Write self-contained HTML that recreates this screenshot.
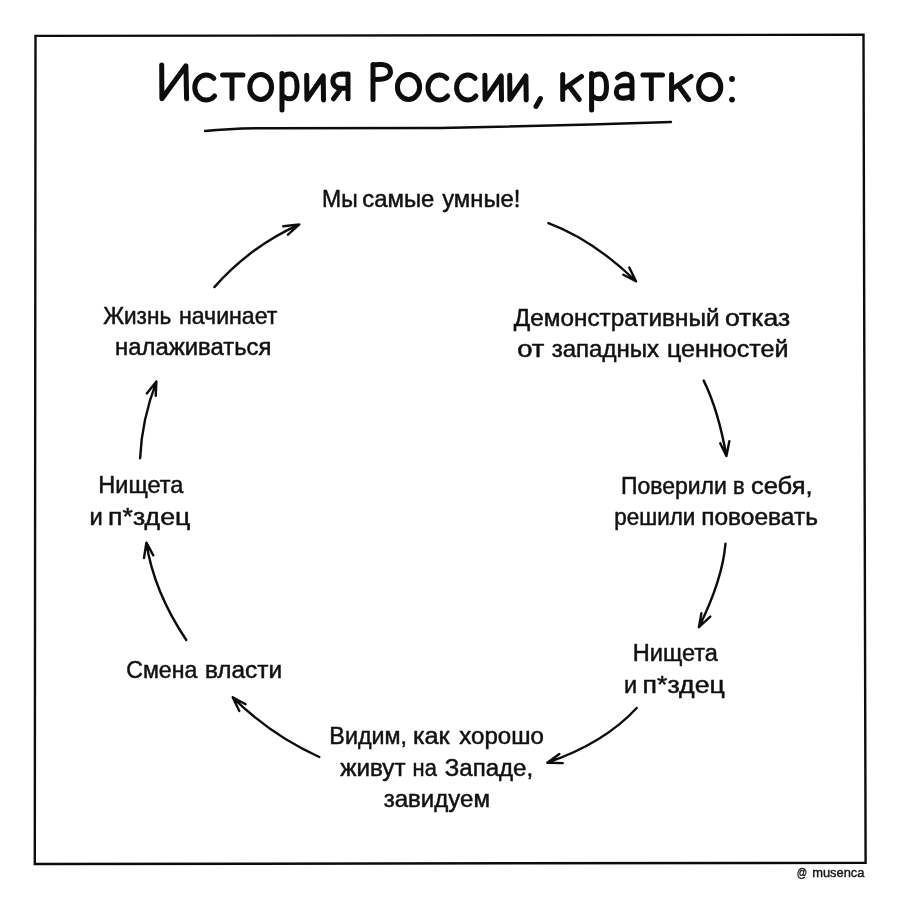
<!DOCTYPE html>
<html lang="ru">
<head>
<meta charset="utf-8">
<title>История России, кратко</title>
<style>
  html, body { margin: 0; padding: 0; background: #ffffff; }
  body { width: 900px; height: 900px; overflow: hidden; font-family: "Liberation Sans", sans-serif; }
  svg { display: block; filter: grayscale(1); }
  .lbl text { font-family: "Liberation Sans", sans-serif; font-size: 24.2px; fill: #111111; stroke: #111111; stroke-width: 0.5px; stroke-linejoin: round; }
  .sig text { font-family: "Liberation Sans", sans-serif; font-size: 13.5px; fill: #141414; stroke: #141414; stroke-width: 0.4px; }
  .ink { fill: none; stroke: #0c0c0c; stroke-linecap: round; stroke-linejoin: round; }
  .ttl { stroke-width: 5.0; }
  .arr { stroke-width: 2.4; }
</style>
</head>
<body>
<svg width="900" height="900" viewBox="0 0 900 900">
  <rect x="0" y="0" width="900" height="900" fill="#ffffff"/>

  <!-- frame -->
  <path class="ink" style="stroke-width:2.4;stroke-linejoin:miter" d="M35.5,35.9 L863.5,34.7 L865.6,862.8 L34.8,864 Z"/>

  <!-- title: hand lettered strokes -->
  <g class="ink ttl" id="title">
    <!-- И -->
    <path d="M161.7,65 L161.9,98.7 L185.9,65.8 L186.6,98.7"/>
    <!-- с -->
    <path d="M213.8,78.3 A11.4,12.5 0 1 0 214.6,96"/>
    <!-- т -->
    <path d="M222.6,75 L243,75 M232,75 L232,98.6"/>
    <!-- о -->
    <ellipse cx="260.7" cy="86.9" rx="10.9" ry="12.5"/>
    <!-- р -->
    <path d="M282,73.5 L282,110.1 M282,78 C284,75 287,73.9 290,73.9 C295,73.9 297.1,80 297.1,86.4 C297.1,93 295,98.8 290,98.8 C287,98.8 284,97.5 282,95"/>
    <!-- и -->
    <path d="M306.7,75.2 L306.9,99.4 L323.2,76 L323.5,100"/>
    <!-- я -->
    <path d="M348,74.2 L341.5,73.9 C336,73.9 332.9,77 332.9,81 C332.9,85.5 336,88.3 341.5,88.3 L348,88.3 M348,74 L348,98.8 M341,88.5 L333.5,98.8"/>
    <!-- Р -->
    <path d="M373,64.5 L373,99.5 M373,65 C376,64.3 379,64.3 382,64.5 C387,65 390.5,67.5 390.5,72 C390.5,76.5 386,79.3 381,79.3 L373.5,79.6"/>
    <!-- о -->
    <ellipse cx="408.5" cy="86.9" rx="11.1" ry="12.5"/>
    <!-- с с -->
    <path d="M446.8,78.3 A11.3,12.5 0 1 0 447.6,96"/>
    <path d="M475.1,78.3 A11.1,12.5 0 1 0 475.9,96"/>
    <!-- и и -->
    <path d="M484.9,75.2 L485.1,99.4 L501.2,76 L501.5,100"/>
    <path d="M509.7,75.2 L509.9,99.4 L525.9,76 L526.2,100"/>
    <!-- , -->
    <path d="M540.5,98.5 L536,106.5"/>
    <!-- к -->
    <path d="M562.7,74.5 L562.7,99.5 M565,88 L581.5,76.5 M569.5,86.5 L579.3,99.5"/>
    <!-- р -->
    <path d="M591.6,73.5 L591.6,110.1 M591.6,78 C593.6,75 596.6,73.9 599.6,73.9 C604.6,73.9 606.5,80 606.5,86.4 C606.5,93 604.6,98.8 599.6,98.8 C596.6,98.8 593.6,97.5 591.6,95"/>
    <!-- а -->
    <path d="M617.5,77.8 C620,74.5 623,73.9 625.5,73.9 C629.5,73.9 632,76.5 632,81 L632,98.5 M632,85.8 L623,85.8 C618.5,85.8 616.3,88.5 616.3,92 C616.3,95.5 618.5,98.2 623,98.2 C627,98.2 630,97 632,95.5"/>
    <!-- т -->
    <path d="M642.9,75 L662.5,75 M651.3,75 L651.3,98.8"/>
    <!-- к -->
    <path d="M671.6,74.5 L671.6,99.5 M674.5,87.5 L691,76.5 M678.5,85.5 L688.5,99.5"/>
    <!-- о -->
    <ellipse cx="709.7" cy="86.9" rx="11.1" ry="12.5"/>
  </g>
  <!-- : -->
  <circle cx="732" cy="79" r="2.9" fill="#0c0c0c"/>
  <circle cx="732" cy="99.6" r="2.9" fill="#0c0c0c"/>

  <!-- underline -->
  <path class="ink" style="stroke-width:2.4" d="M205,131 Q230,128.4 262,128.2 L440,128 Q560,125.6 671,122"/>

  <!-- labels -->
  <g class="lbl">
    <text transform="translate(322.05,207.0) scale(0.9474,1)">Мы</text>
    <text transform="translate(362.31,207.0) scale(0.9866,1)">самые</text>
    <text transform="translate(442.20,207.0) scale(0.9853,1)">умные!</text>
    <text transform="translate(513.70,325.7) scale(1.0064,1)">Демонстративный</text>
    <text transform="translate(724.90,325.7) scale(1.0979,1)">отказ</text>
    <text transform="translate(517.17,357.1) scale(1.1344,1)">от</text>
    <text transform="translate(551.70,357.1) scale(0.9940,1)">западных</text>
    <text transform="translate(666.96,357.1) scale(1.0388,1)">ценностей</text>
    <text transform="translate(620.95,493.6) scale(0.9491,1)">Поверили</text>
    <text transform="translate(733.09,493.6) scale(0.9091,1)">в</text>
    <text transform="translate(750.95,493.6) scale(1.0540,1)">себя,</text>
    <text transform="translate(614.27,525.0) scale(0.9266,1)">решили</text>
    <text transform="translate(701.19,525.0) scale(1.0131,1)">повоевать</text>
    <text transform="translate(632.73,661.4) scale(0.9740,1)">Нищета</text>
    <text transform="translate(624.03,692.8) scale(0.9727,1)">и</text>
    <text transform="translate(642.60,692.8) scale(1.1041,1)">п*здец</text>
    <text transform="translate(329.34,744.2) scale(0.9628,1)">Видим,</text>
    <text transform="translate(412.96,744.2) scale(1.0415,1)">как</text>
    <text transform="translate(459.30,744.2) scale(0.9955,1)">хорошо</text>
    <text transform="translate(340.30,775.6) scale(1.0015,1)">живут</text>
    <text transform="translate(412.60,775.6) scale(0.9030,1)">на</text>
    <text transform="translate(444.70,775.6) scale(0.9957,1)">Западе,</text>
    <text transform="translate(383.70,807.2) scale(0.9935,1)">завидуем</text>
    <text transform="translate(126.24,678.2) scale(0.9553,1)">Смена</text>
    <text transform="translate(204.89,678.2) scale(1.0090,1)">власти</text>
    <text transform="translate(98.33,493.4) scale(0.9706,1)">Нищета</text>
    <text transform="translate(89.52,524.8) scale(0.9818,1)">и</text>
    <text transform="translate(108.10,524.8) scale(1.1041,1)">п*здец</text>
    <text transform="translate(103.20,324.4) scale(0.9323,1)">Жизнь</text>
    <text transform="translate(178.94,324.4) scale(0.9573,1)">начинает</text>
    <text transform="translate(115.11,355.1) scale(0.9870,1)">налаживаться</text>
  </g>
  <g class="sig">
    <text transform="translate(796.84,876.7) scale(0.7583,1)">@</text>
    <text transform="translate(812.20,876.7) scale(0.9553,1)">musenca</text>
  </g>

  <!-- arrows -->
  <g class="ink arr">
    <!-- 1: Жизнь -> Мы самые умные -->
    <path d="M214.4,287.1 Q249.7,246.9 299.3,224.4 M283.3,226.3 L299.3,224.4 L288,234.7"/>
    <!-- 2: Мы самые умные -> Демонстративный -->
    <path d="M548.4,223.1 Q593.2,239.8 636,281.3 M629.3,267.6 L636,281.3 L623.3,274.7"/>
    <!-- 3: Демонстративный -> Поверили -->
    <path d="M703.7,380.6 Q718.4,410.5 726.4,456.1 M720.2,443.3 L726.4,456.1 L729.4,441.1"/>
    <!-- 4: Поверили -> Нищета -->
    <path d="M725.5,543.7 Q722.4,579.8 698.9,627.2 M701.4,613.1 L698.9,627.2 L710.3,616.6"/>
    <!-- 5: Нищета -> Видим -->
    <path d="M636.7,708 Q604.5,743 547.3,762.7 M559.3,754 L547.3,762.7 L562.7,763.1"/>
    <!-- 6: Видим -> Смена власти -->
    <path d="M319.3,757 Q270.6,734.9 232.7,697.3 M245.6,704.3 L232.7,697.3 L239.3,711"/>
    <!-- 7: Смена власти -> Нищета -->
    <path d="M186.3,640 Q153.7,591.3 146.4,542.7 M144,558 L146.4,542.7 L153.3,555.3"/>
    <!-- 8: Нищета -> Жизнь -->
    <path d="M140.1,458.3 Q141.8,419.7 156.4,381.6 M146.8,393.4 L156.4,381.6 L155.7,395.9"/>
  </g>
</svg>
</body>
</html>
